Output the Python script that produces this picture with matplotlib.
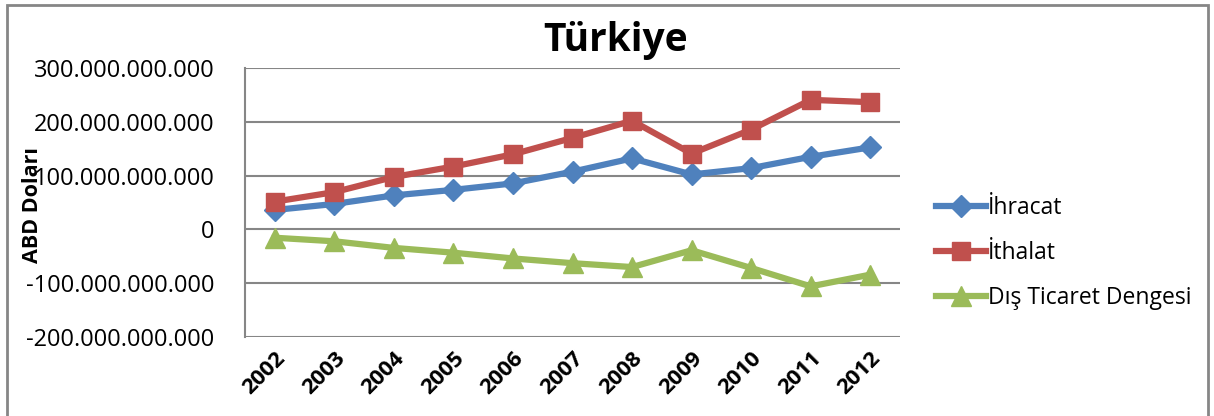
import matplotlib.pyplot as plt
from matplotlib.ticker import FuncFormatter
from matplotlib.patches import Rectangle

# Turkey foreign trade, USD
years = ['2002', '2003', '2004', '2005', '2006', '2007', '2008', '2009', '2010', '2011', '2012']
ihracat = [36.1e9, 47.3e9, 63.2e9, 73.5e9, 85.5e9, 107.3e9, 132.0e9, 102.1e9, 113.9e9, 134.9e9, 152.5e9]
ithalat = [51.6e9, 69.3e9, 97.5e9, 116.8e9, 139.6e9, 170.1e9, 202.0e9, 140.9e9, 185.5e9, 240.8e9, 236.5e9]
denge = [-15.5e9, -22.1e9, -34.4e9, -43.3e9, -54.0e9, -62.8e9, -70.0e9, -38.8e9, -71.7e9, -105.9e9, -84.1e9]

plt.rcParams['font.family'] = ['Open Sans', 'DejaVu Sans']

fig = plt.figure(figsize=(12.14, 4.16), dpi=100)
ax = fig.add_axes([245 / 1214, 1 - 337 / 416, (900 - 245) / 1214, (337 - 68) / 416])

# outer chart border
fig.patches.append(Rectangle((7 / 1214, -0.01), 1201 / 1214, 1 - 5 / 416 + 0.01,
                             transform=fig.transFigure, fill=False,
                             edgecolor='#868686', linewidth=2))

x = range(len(years))
ax.plot(x, ihracat, color='#4F81BD', lw=4.5, marker='D', ms=11, label='İhracat')
ax.plot(x, ithalat, color='#C0504D', lw=4.5, marker='s', ms=13, label='İthalat')
ax.plot(x, denge, color='#9BBB59', lw=4.5, marker='^', ms=14, label='Dış Ticaret Dengesi')

ax.set_xlim(-0.5, len(years) - 0.5)
ax.set_ylim(-200e9, 300e9)
ax.set_yticks([-200e9, -100e9, 0, 100e9, 200e9, 300e9])
ax.yaxis.set_major_formatter(FuncFormatter(lambda v, p: f'{v:,.0f}'.replace(',', '.')))
ax.set_xticks(list(x))
ax.set_xticklabels(years, rotation=45, ha='right', rotation_mode='anchor',
                   fontsize=16, fontweight='bold')
ax.tick_params(axis='y', labelsize=17, length=0, pad=22)
ax.tick_params(axis='x', length=0, pad=8)
ax.grid(axis='y', color='#868686', lw=1.5)
ax.set_axisbelow(True)
for s in ['top', 'right', 'bottom']:
    ax.spines[s].set_visible(False)
ax.spines['left'].set_color('#868686')
ax.spines['left'].set_linewidth(1.5)

fig.text(616 / 1214, 1 - 40 / 416, 'Türkiye', ha='center', va='center',
         fontsize=28, fontweight='bold')
fig.text(32 / 1214, 1 - 205 / 416, 'ABD Doları', ha='center', va='center',
         rotation=90, fontsize=15.5, fontweight='bold')

fig.legend(loc='center left', bbox_to_anchor=(915 / 1214, 1 - 253 / 416),
           frameon=False, fontsize=16.5, handlelength=2.2, handletextpad=0.1,
           labelspacing=0.9)

fig.savefig('out.png', dpi=100)
